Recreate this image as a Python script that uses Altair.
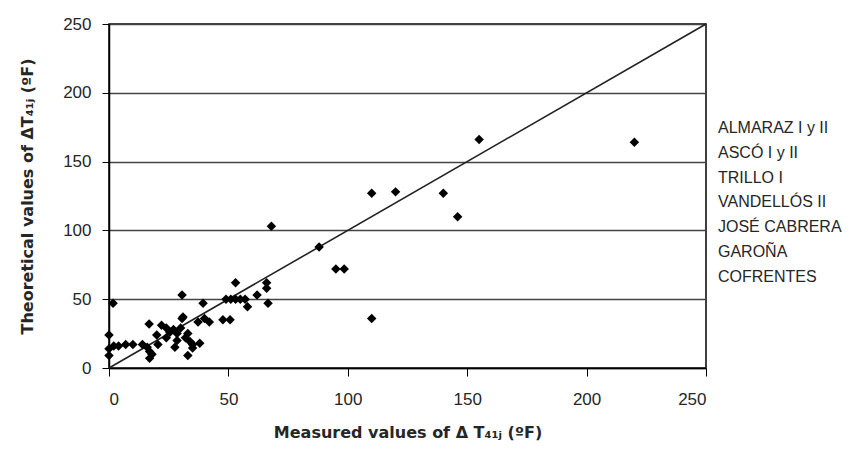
import altair as alt
import pandas as pd

# measured (x) and theoretical (y) values of delta T41j (ºF)
measured = [0, 0, 0, 1.7, 2, 4, 7, 10, 14, 16, 17, 17, 18, 16.8, 20.5, 22, 24, 24, 25.5, 20,
            27, 27.6, 28.5, 28.5, 30, 30.6, 30.6, 31, 32, 33, 33, 34, 35, 35, 37.3, 38, 39.4,
            40, 42, 47.7, 50.7, 49, 51, 53, 55, 57, 53, 58, 62, 66, 66, 66.6, 68, 88, 95, 98.5,
            110, 110, 120, 140, 146, 155, 220]
theoretical = [24, 14, 9, 47, 16, 16, 17, 17, 17, 15, 12, 7, 10, 32, 17, 31, 22, 29, 26, 24,
               28, 15, 20, 25, 29, 36, 53, 37, 22, 25, 9, 19, 14.5, 17, 33.5, 18, 47,
               36, 33.5, 35, 35, 50, 50, 50, 50, 50, 62, 44.5, 53, 62, 58, 47, 103, 88, 72, 72,
               36, 127, 128, 127, 110, 166, 164]

diag_x = [0, 250]
diag_y = [0, 250]

plants = ["ALMARAZ I y II", "ASCÓ I y II", "TRILLO I", "VANDELLÓS II",
          "JOSÉ CABRERA", "GAROÑA", "COFRENTES"]

ticks = [0, 50, 100, 150, 200, 250]

pts = pd.DataFrame({"x": measured, "y": theoretical})
diag = pd.DataFrame({"x": diag_x, "y": diag_y})
leg = pd.DataFrame({"name": plants, "i": list(range(len(plants)))})

FONT = "Liberation Sans"
TFONT = "DejaVu Sans"
TXT = "#262626"

xscale = alt.Scale(domain=[0, 250], nice=False)
yscale = alt.Scale(domain=[0, 250], nice=False)

xaxis = alt.Axis(values=ticks, grid=False, tickSize=8, tickColor="#000", domainColor="#000",
                 domainWidth=1.5, labelPadding=15, labelFontSize=17, labelFont=FONT,
                 labelColor=TXT, title="Measured values of  Δ T₄₁ⱼ (ºF)",
                 titleFont=TFONT, titleFontSize=16, titleFontWeight="bold", titleColor=TXT,
                 titleY=56, titleBaseline="top")
yaxis = alt.Axis(values=ticks, grid=True, gridColor="#444", gridWidth=1.3, tickSize=7,
                 tickColor="#000", domainColor="#000", domainWidth=1.5, labelPadding=11,
                 labelFontSize=17, labelFont=FONT, labelColor=TXT,
                 title="Theoretical values of  ΔT₄₁ⱼ (ºF)", titleFont=TFONT, titleFontSize=16,
                 titleFontWeight="bold", titleColor=TXT, titleX=-74, titleY=172,
                 titleAngle=270, titleBaseline="bottom")

line = alt.Chart(diag).mark_line(color="#222", strokeWidth=1.6).encode(
    x=alt.X("x:Q", scale=xscale, axis=xaxis),
    y=alt.Y("y:Q", scale=yscale, axis=yaxis),
)

points = alt.Chart(pts).mark_point(shape="diamond", filled=True, color="#000", size=90,
                                   opacity=1).encode(
    x=alt.X("x:Q", scale=xscale),
    y=alt.Y("y:Q", scale=yscale),
)

legend = alt.Chart(leg).mark_text(align="left", baseline="middle", font=FONT, fontSize=16,
                                  color=TXT).transform_calculate(
    py="104 + datum.i * 24.8"
).encode(
    x=alt.value(609),
    y=alt.Y("py:Q", scale=None),
    text="name:N",
)

chart = alt.layer(line, points, legend).properties(
    width=597, height=344,
    autosize=alt.AutoSizeParams(type="none"),
    padding={"left": 101, "top": 16, "right": 137, "bottom": 78},
).configure_view(stroke="#000", strokeWidth=1.5)

chart.save("out.html", embed_options={"renderer": "svg", "actions": False})
